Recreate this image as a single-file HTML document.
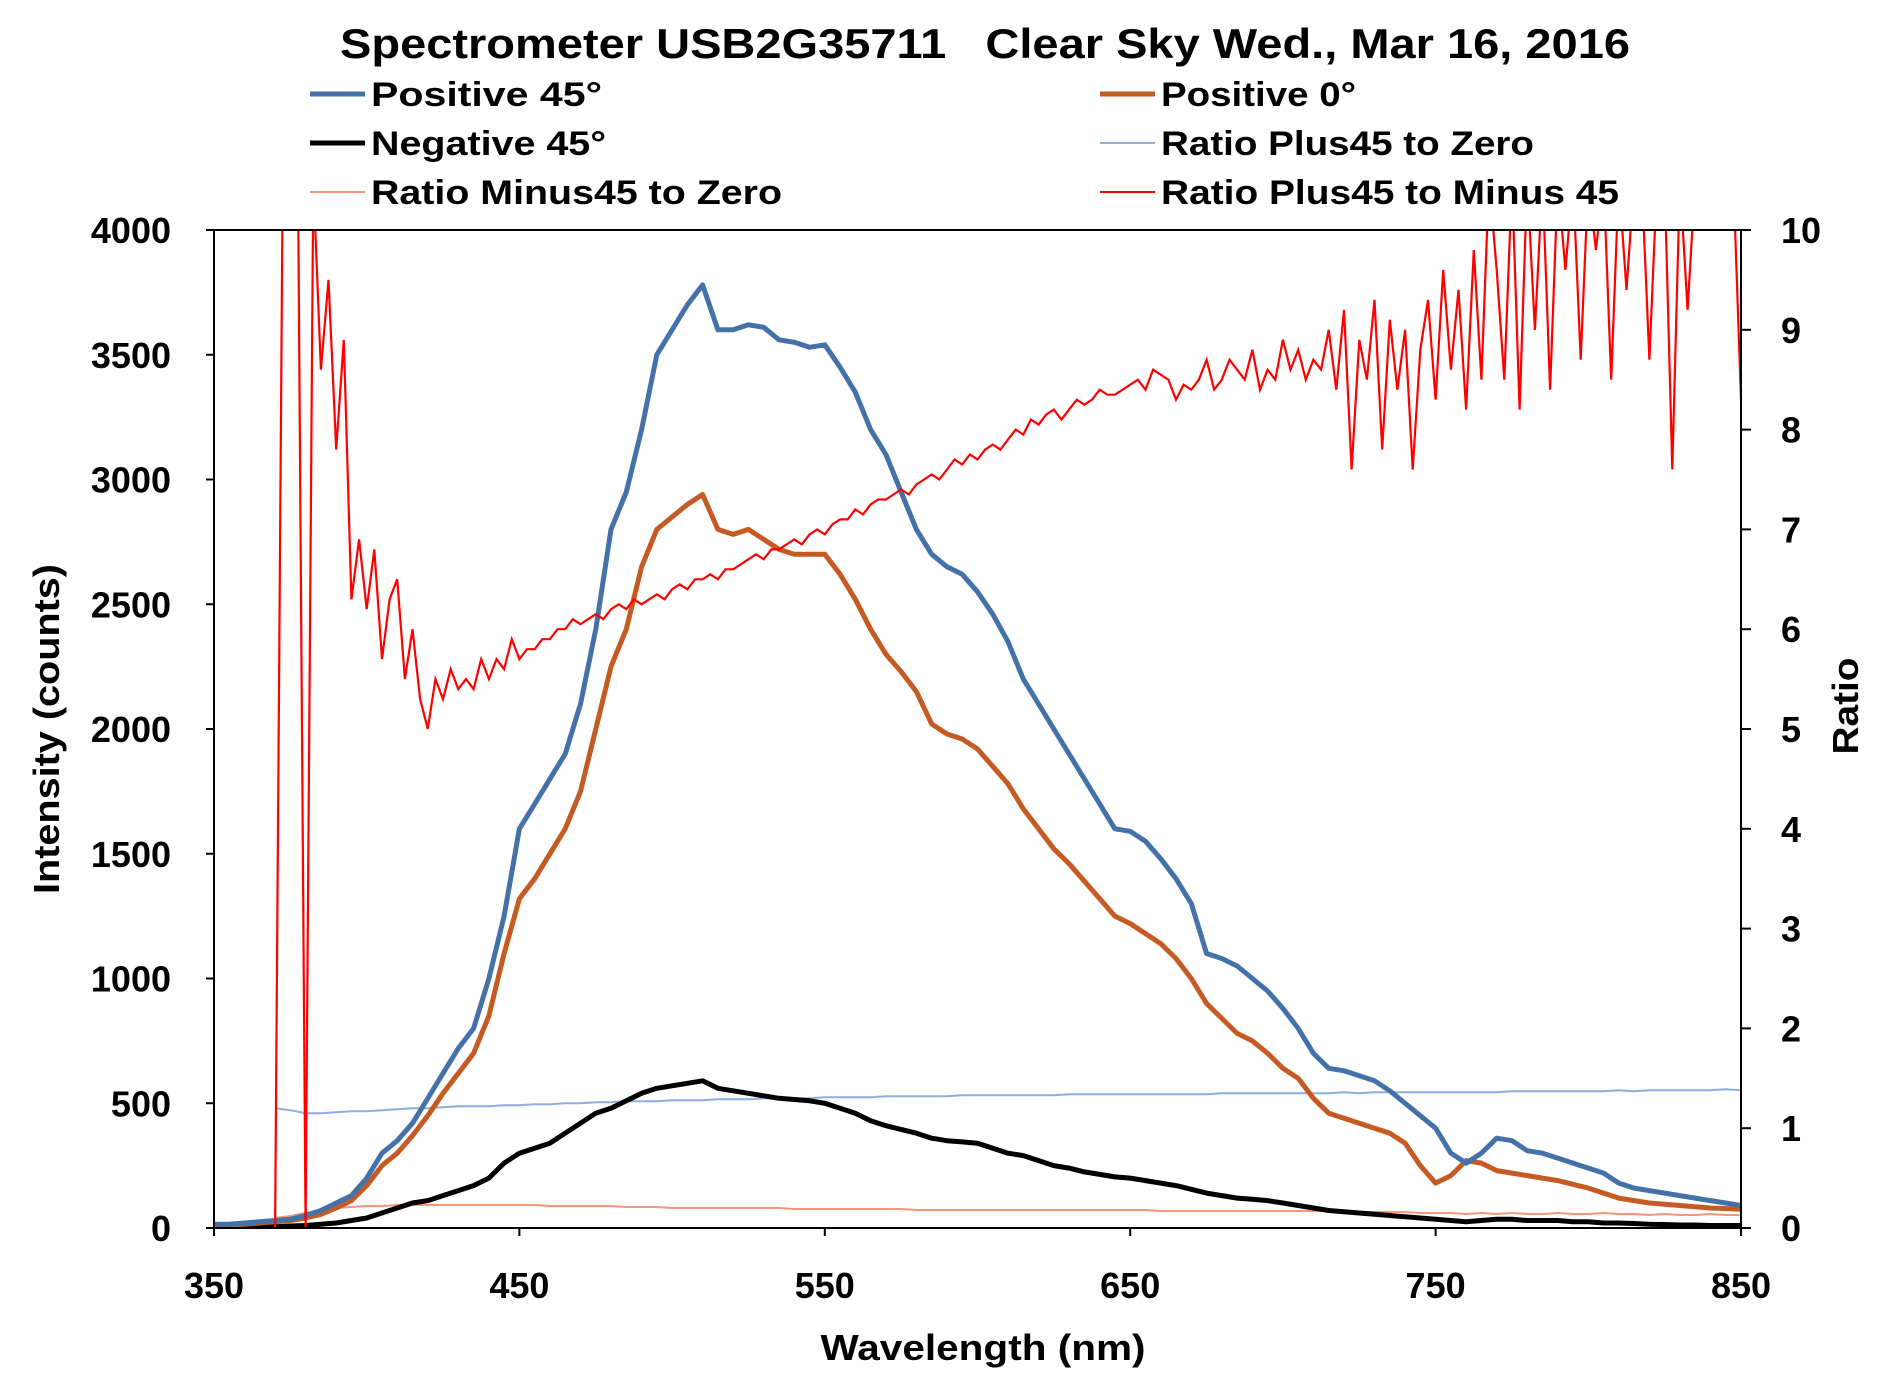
<!DOCTYPE html>
<html><head><meta charset="utf-8"><style>
html,body{margin:0;padding:0;background:#fff;}
svg{display:block;font-family:"Liberation Sans",Arial,sans-serif;font-weight:bold;}
</style></head><body>
<svg id="chart" width="1897" height="1375" viewBox="0 0 1897 1375">
<defs><clipPath id="pc"><rect x="214" y="230" width="1527" height="998"/></clipPath></defs>
<rect x="0" y="0" width="1897" height="1375" fill="#fff"/>
<text x="985" y="58" text-anchor="middle" font-size="42" textLength="1290" lengthAdjust="spacingAndGlyphs">Spectrometer USB2G35711&#160;&#160;&#160;Clear Sky Wed., Mar 16, 2016</text>
<g>
 <g><line x1="310" y1="94" x2="365" y2="94" stroke="#4472a8" stroke-width="5"/><text x="371" y="106" font-size="34" textLength="231" lengthAdjust="spacingAndGlyphs">Positive 45°</text></g>
 <g><line x1="310" y1="143" x2="365" y2="143" stroke="#000" stroke-width="5"/><text x="371" y="155" font-size="34" textLength="235" lengthAdjust="spacingAndGlyphs">Negative 45°</text></g>
 <g><line x1="310" y1="192" x2="365" y2="192" stroke="#f4977a" stroke-width="2"/><text x="371" y="204" font-size="34" textLength="411" lengthAdjust="spacingAndGlyphs">Ratio Minus45 to Zero</text></g>
 <g><line x1="1100" y1="94" x2="1155" y2="94" stroke="#c55a22" stroke-width="5"/><text x="1161" y="106" font-size="34" textLength="195" lengthAdjust="spacingAndGlyphs">Positive 0°</text></g>
 <g><line x1="1100" y1="143" x2="1155" y2="143" stroke="#8eaee0" stroke-width="2"/><text x="1161" y="155" font-size="34" textLength="373" lengthAdjust="spacingAndGlyphs">Ratio Plus45 to Zero</text></g>
 <g><line x1="1100" y1="192" x2="1155" y2="192" stroke="#ff0000" stroke-width="2"/><text x="1161" y="204" font-size="34" textLength="458" lengthAdjust="spacingAndGlyphs">Ratio Plus45 to Minus 45</text></g>
</g>
<g id="axes"></g>
<g id="series" clip-path="url(#pc)"></g>
<rect x="214" y="230" width="1527" height="998" fill="none" stroke="#000" stroke-width="2"/>
<text x="983" y="1360" text-anchor="middle" font-size="36" textLength="325" lengthAdjust="spacingAndGlyphs">Wavelength (nm)</text>
<text transform="translate(59,729) rotate(-90)" text-anchor="middle" font-size="36" textLength="330" lengthAdjust="spacingAndGlyphs">Intensity (counts)</text>
<text transform="translate(1858,706) rotate(-90)" text-anchor="middle" font-size="36" textLength="97" lengthAdjust="spacingAndGlyphs">Ratio</text>
</svg>
<script>
const xTicks=[350,450,550,650,750,850];
const yTicks=[0,500,1000,1500,2000,2500,3000,3500,4000];
const rTicks=[0,1,2,3,4,5,6,7,8,9,10];
const wl=[350,355,360,365,370,375,380,385,390,395,400,405,410,415,420,425,430,435,440,445,450,455,460,465,470,475,480,485,490,495,500,505,510,515,520,525,530,535,540,545,550,555,560,565,570,575,580,585,590,595,600,605,610,615,620,625,630,635,640,645,650,655,660,665,670,675,680,685,690,695,700,705,710,715,720,725,730,735,740,745,750,755,760,765,770,775,780,785,790,795,800,805,810,815,820,825,830,835,840,845,850];
const pos45=[15,15,20,25,30,35,50,70,100,130,200,300,350,420,520,620,720,800,1000,1250,1600,1700,1800,1900,2100,2400,2800,2950,3200,3500,3600,3700,3780,3600,3600,3620,3610,3560,3550,3530,3540,3450,3350,3200,3100,2950,2800,2700,2650,2620,2550,2460,2350,2200,2100,2000,1900,1800,1700,1600,1590,1550,1480,1400,1300,1100,1080,1050,1000,950,880,800,700,640,630,610,590,550,500,450,400,300,260,300,360,350,310,300,280,260,240,220,180,160,150,140,130,120,110,100,90];
const pos0=[10,12,15,20,25,30,40,55,80,110,170,250,300,370,450,540,620,700,850,1100,1320,1400,1500,1600,1750,2000,2250,2400,2650,2800,2850,2900,2940,2800,2780,2800,2760,2720,2700,2700,2700,2620,2520,2400,2300,2230,2150,2020,1980,1960,1920,1850,1780,1680,1600,1520,1460,1390,1320,1250,1220,1180,1140,1080,1000,900,840,780,750,700,640,600,520,460,440,420,400,380,340,250,180,210,270,260,230,220,210,200,190,175,160,140,120,110,100,95,90,85,80,78,75];
const neg45=[0,0,2,3,5,8,10,15,20,30,40,60,80,100,110,130,150,170,200,260,300,320,340,380,420,460,480,510,540,560,570,580,590,560,550,540,530,520,515,510,500,480,460,430,410,395,380,360,350,345,340,320,300,290,270,250,240,225,215,205,200,190,180,170,155,140,130,120,115,110,100,90,80,70,65,60,55,50,45,40,35,30,25,30,35,35,30,30,30,25,25,20,20,18,15,14,12,12,10,10,10];
const ratioPZ=[null,null,null,null,1.2,1.18,1.15,1.15,1.16,1.17,1.17,1.18,1.19,1.2,1.2,1.21,1.22,1.22,1.22,1.23,1.23,1.24,1.24,1.25,1.25,1.26,1.26,1.27,1.27,1.27,1.28,1.28,1.28,1.29,1.29,1.29,1.3,1.3,1.3,1.3,1.31,1.31,1.31,1.31,1.32,1.32,1.32,1.32,1.32,1.33,1.33,1.33,1.33,1.33,1.33,1.33,1.34,1.34,1.34,1.34,1.34,1.34,1.34,1.34,1.34,1.34,1.35,1.35,1.35,1.35,1.35,1.35,1.35,1.35,1.36,1.35,1.36,1.36,1.36,1.36,1.36,1.36,1.36,1.36,1.36,1.37,1.37,1.37,1.37,1.37,1.37,1.37,1.38,1.37,1.38,1.38,1.38,1.38,1.38,1.39,1.38];
const ratioMZ=[null,null,null,null,0.1,0.12,0.15,0.17,0.2,0.21,0.22,0.22,0.23,0.23,0.23,0.23,0.23,0.23,0.23,0.23,0.23,0.23,0.22,0.22,0.22,0.22,0.22,0.21,0.21,0.21,0.2,0.2,0.2,0.2,0.2,0.2,0.2,0.2,0.19,0.19,0.19,0.19,0.19,0.19,0.19,0.19,0.18,0.18,0.18,0.18,0.18,0.18,0.18,0.18,0.18,0.18,0.18,0.18,0.18,0.18,0.18,0.18,0.17,0.17,0.17,0.17,0.17,0.17,0.17,0.17,0.17,0.17,0.17,0.17,0.16,0.16,0.16,0.16,0.16,0.15,0.15,0.15,0.14,0.15,0.14,0.15,0.14,0.14,0.15,0.14,0.14,0.15,0.14,0.14,0.13,0.14,0.13,0.13,0.14,0.13,0.13];
const wlR=[];for(let w=370;w<=850;w+=2.5)wlR.push(w);
const ratioPM=[0,10.5,10.5,10.5,0,10.5,8.6,9.5,7.8,8.9,6.3,6.9,6.2,6.8,5.7,6.3,6.5,5.5,6.0,5.3,5.0,5.5,5.3,5.6,5.4,5.5,5.4,5.7,5.5,5.7,5.6,5.9,5.7,5.8,5.8,5.9,5.9,6.0,6.0,6.1,6.05,6.1,6.15,6.1,6.2,6.25,6.2,6.3,6.25,6.3,6.35,6.3,6.4,6.45,6.4,6.5,6.5,6.55,6.5,6.6,6.6,6.65,6.7,6.75,6.7,6.8,6.8,6.85,6.9,6.85,6.95,7.0,6.95,7.05,7.1,7.1,7.2,7.15,7.25,7.3,7.3,7.35,7.4,7.35,7.45,7.5,7.55,7.5,7.6,7.7,7.65,7.75,7.7,7.8,7.85,7.8,7.9,8.0,7.95,8.1,8.05,8.15,8.2,8.1,8.2,8.3,8.25,8.3,8.4,8.35,8.35,8.4,8.45,8.5,8.4,8.6,8.55,8.5,8.3,8.45,8.4,8.5,8.7,8.4,8.5,8.7,8.6,8.5,8.8,8.4,8.6,8.5,8.9,8.6,8.8,8.5,8.7,8.6,9.0,8.4,9.2,7.6,8.9,8.5,9.3,7.8,9.1,8.4,9.0,7.6,8.8,9.3,8.3,9.6,8.6,9.4,8.2,9.8,8.5,10.5,9.6,8.5,10.5,8.2,10.5,9.0,10.5,8.4,10.5,9.6,10.5,8.7,10.5,9.8,10.5,8.5,10.5,9.4,10.5,10.5,8.7,10.5,10.5,7.6,10.5,9.2,10.5,10.5,10.5,10.5,10.5,10.5,8.3];

const NS='http://www.w3.org/2000/svg';
const L=214,R=1741,T=230,B=1228;
const xs=w=>L+(w-350)/500*(R-L);
const yl=v=>B-v/4000*(B-T);
const yr=v=>B-v/10*(B-T);
function mk(tag,at,parent){const e=document.createElementNS(NS,tag);for(const k in at)e.setAttribute(k,at[k]);parent.appendChild(e);return e;}
const ax=document.getElementById('axes'), sg=document.getElementById('series');
xTicks.forEach(t=>{
  const ln=mk('line',{x1:xs(t),x2:xs(t),y1:B,y2:B+8,stroke:'#000','stroke-width':2},ax);
  
  
  const tx=mk('text',{x:xs(t),y:1298,'text-anchor':'middle','font-size':36},ax);tx.textContent=t;
  
  
});
yTicks.forEach(t=>{
  const ln=mk('line',{x1:L-8,x2:L,y1:yl(t),y2:yl(t),stroke:'#000','stroke-width':2},ax);
  
  
  const tx=mk('text',{x:171,y:yl(t)+13,'text-anchor':'end','font-size':36},ax);tx.textContent=t;
  
  
});
rTicks.forEach(t=>{
  const ln=mk('line',{x1:R,x2:R+10,y1:yr(t),y2:yr(t),stroke:'#000','stroke-width':2},ax);
  
  
  const tx=mk('text',{x:1781,y:yr(t)+13,'text-anchor':'start','font-size':36},ax);tx.textContent=t;
  
  
});
function path(xsArr,ys,yf){let d='';let pen=false;xsArr.forEach((w,i)=>{const v=ys[i];if(v==null){pen=false;return;}d+=(pen?'L':'M')+xs(w).toFixed(1)+','+yf(v).toFixed(1);pen=true;});return d;}
const s1=mk('path',{d:path(wl,ratioMZ,yr),fill:'none',stroke:'#f4977a','stroke-width':2},sg);


const s2=mk('path',{d:path(wl,ratioPZ,yr),fill:'none',stroke:'#8eaee0','stroke-width':2},sg);


const s3=mk('path',{d:path(wl,neg45,yl),fill:'none',stroke:'#000','stroke-width':5,'stroke-linejoin':'round'},sg);


const s4=mk('path',{d:path(wl,pos0,yl),fill:'none',stroke:'#c55a22','stroke-width':5,'stroke-linejoin':'round'},sg);


const s5=mk('path',{d:path(wl,pos45,yl),fill:'none',stroke:'#4472a8','stroke-width':5,'stroke-linejoin':'round'},sg);


const s6=mk('path',{d:path(wlR,ratioPM,yr),fill:'none',stroke:'#ff0000','stroke-width':2.2},sg);


</script>
</body></html>
